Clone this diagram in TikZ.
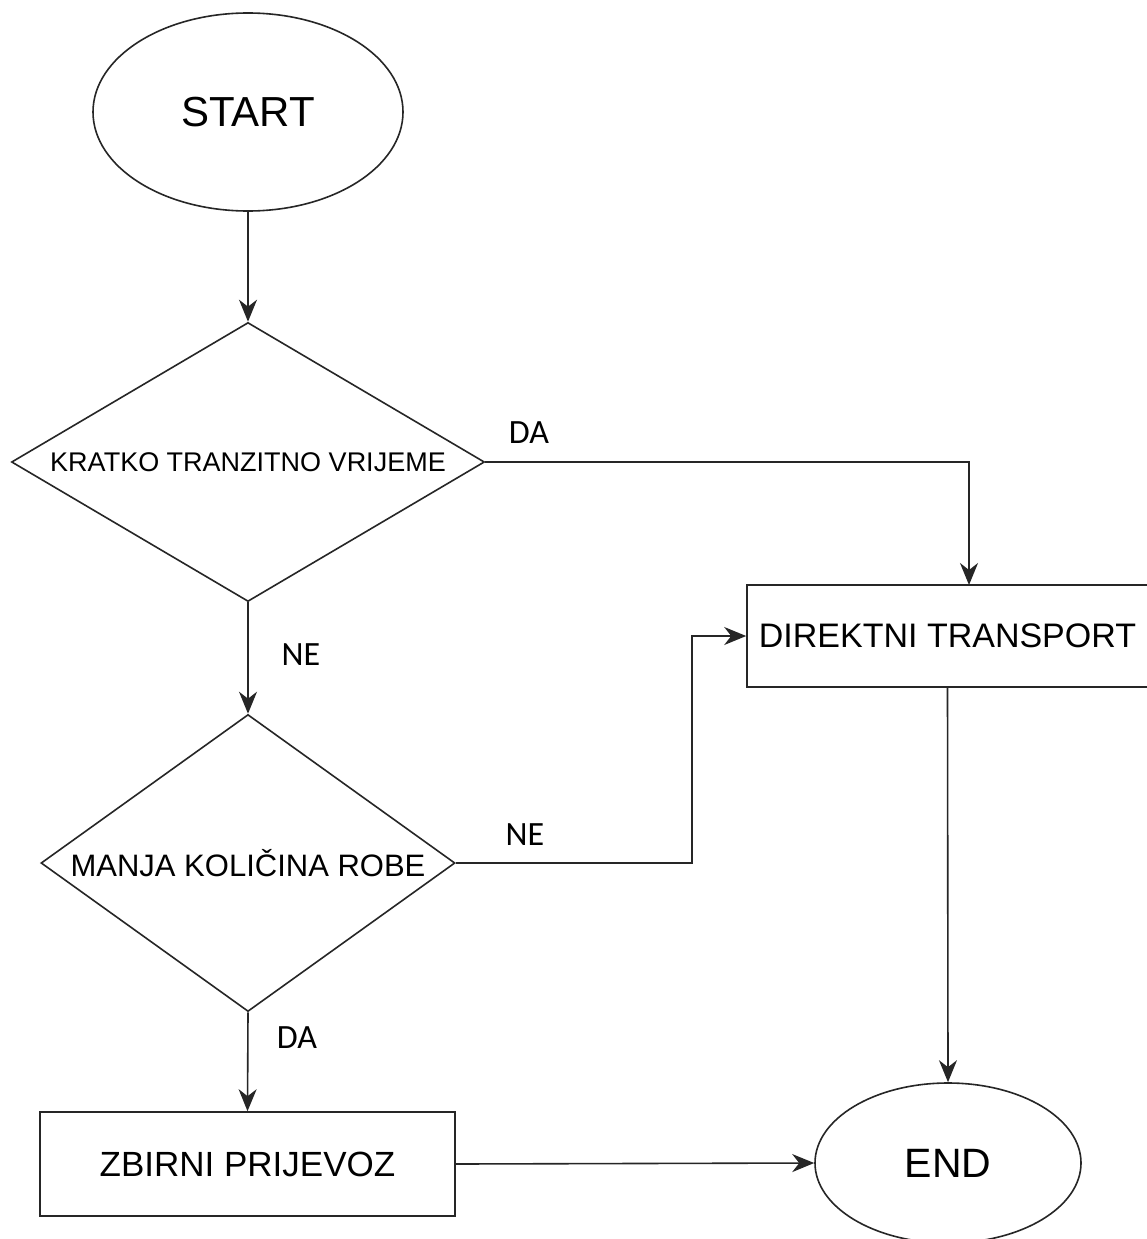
\documentclass[tikz,border=0pt]{standalone}
\usepackage{fontspec}
\setmainfont{Liberation Sans}
\newfontfamily\lblfont{Carlito}
\usetikzlibrary{shapes.geometric,arrows.meta}
\tikzset{
  base/.style={draw=black!85, line width=1.6pt, inner sep=0pt},
  term/.style={base, ellipse},
  decision/.style={base, diamond},
  procbox/.style={base, rectangle},
  conn/.style={line width=1.6pt, draw=black!85, -{Stealth[length=22pt,width=18pt,inset=7pt]}},
  plainconn/.style={line width=1.6pt, draw=black!85},
  lbl/.style={font=\lblfont\fontsize{34}{40}\selectfont, inner sep=0pt},
}
\begin{document}
\begin{tikzpicture}[x=1pt,y=-1pt]
\useasboundingbox (0,0) rectangle (1146,1239);
\fill[white] (0,0) rectangle (1146,1239);

\node[term, minimum width=310pt, minimum height=198pt] (start) at (248,112) {};
\node[font=\fontsize{42}{50}\selectfont] (starttxt) at (start.center) {START};

\node[decision, minimum width=473pt, minimum height=279pt] (d1) at (248,462) {};
\node[font=\fontsize{27}{32}\selectfont] (d1txt) at (d1.center) {KRATKO TRANZITNO VRIJEME};

\node[decision, minimum width=414pt, minimum height=297pt] (d2) at (248,863) {};
\node[font=\fontsize{31}{36}\selectfont] (d2txt) at (d2.center) {MANJA KOLIČINA ROBE};

\node[procbox, minimum width=401pt, minimum height=102pt] (direkt) at (947.5,636) {};
\node[font=\fontsize{34}{40}\selectfont] (direkttxt) at (direkt.center) {DIREKTNI TRANSPORT};

\node[procbox, minimum width=415pt, minimum height=104pt] (zbirni) at (247.5,1164) {};
\node[font=\fontsize{35}{42}\selectfont] (zbirnitxt) at (zbirni.center) {ZBIRNI PRIJEVOZ};

\node[term, minimum width=266pt, minimum height=160pt] (end) at (948,1163) {};
\node[font=\fontsize{41}{48}\selectfont] (endtxt) at (end.center) {END};

\coordinate (c1) at (969,585);
\coordinate (c2) at (692,863);

\draw[conn] (start.south) -- (d1.north);
\draw[conn] (d1.east) -| (c1);
\draw[conn] (d1.south) -- (d2.north);
\draw[conn] (d2.east) -- (c2) |- (direkt.west);
\draw[conn] (d2.south) -- (zbirni.north);
\draw[conn] (zbirni.east) -- (end.west);
\draw[conn] (direkt.south) -- (end.north);

\node[lbl] (da1) at (529,433) {DA};
\node[lbl] (ne1) at (301,655) {NE};
\node[lbl] (ne2) at (525,835) {NE};
\node[lbl] (da2) at (297,1038) {DA};
\end{tikzpicture}
\end{document}
